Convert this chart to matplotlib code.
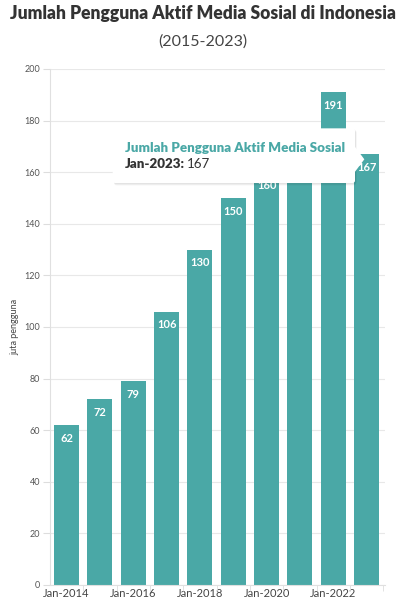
import matplotlib
matplotlib.use("Agg")
import matplotlib.pyplot as plt
from matplotlib.patches import FancyBboxPatch, Polygon
import numpy as np

years = ["Jan-2014", "Jan-2015", "Jan-2016", "Jan-2017", "Jan-2018",
         "Jan-2019", "Jan-2020", "Jan-2021", "Jan-2022", "Jan-2023"]
values = [62, 72, 79, 106, 130, 150, 160, 170, 191, 167]
yticks = [0, 20, 40, 60, 80, 100, 120, 140, 160, 180, 200]

TEAL = "#4aa8a6"
FONT = "Lato"

fig = plt.figure(figsize=(4.06, 6.03), dpi=100)
ax = fig.add_axes([50/406, 1-585/603, (385-50)/406, (585-69)/603])

x = np.arange(len(years))
bars = ax.bar(x, values, width=0.75, color=TEAL, zorder=2)

for xi, v in zip(x, values):
    ax.text(xi, v - 3, str(v), ha="center", va="top", color="white",
            fontsize=8, fontweight="bold", family=FONT, zorder=3)

ax.set_xlim(-0.5, 9.55)
ax.set_ylim(0, 200)
ax.set_yticks(yticks)
ax.set_yticklabels([str(t) for t in yticks], fontsize=6.5, color="#555555", family=FONT)
ax.tick_params(axis="y", length=5, color="#dddddd", pad=2)
ax.grid(axis="y", color="#e8e8e8", linewidth=0.8, zorder=0)
ax.set_axisbelow(True)

ax.set_xticks(x[::2])
ax.set_xticklabels(years[::2], fontsize=8, color="#444444", family=FONT)
ax.tick_params(axis="x", length=0, pad=2)
ax.set_xticks(x + 0.5, minor=True)
ax.tick_params(axis="x", which="minor", length=4, color="#dddddd")

for s in ["top", "right"]:
    ax.spines[s].set_visible(False)
for s in ["left", "bottom"]:
    ax.spines[s].set_color("#e0e0e0")
    ax.spines[s].set_linewidth(0.8)

ax.set_ylabel("juta pengguna", fontsize=6.5, color="#444444", family=FONT, labelpad=4)

title = fig.text(0.5, 1-14/603, "Jumlah Pengguna Aktif Media Sosial di Indonesia",
                 ha="center", va="center", fontsize=13, fontweight="heavy",
                 color="#333333", family=FONT)
fig.canvas.draw()
w = title.get_window_extent().width
title.set_fontsize(13 * 386 / w)
fig.text(0.5, 1-42/603, "(2015-2023)", ha="center", va="center",
         fontsize=11.5, color="#444444", family=FONT)

# tooltip
tx0, tx1, ty0, ty1 = 1.38, 8.65, 155.8, 177
for k, a in [(0.9, 0.05), (0.5, 0.06)]:
    sh = FancyBboxPatch((tx0 + 0.04, ty0 - k), tx1 - tx0, ty1 - ty0,
                        boxstyle="round,pad=0,rounding_size=0.08",
                        facecolor="#000000", alpha=a, edgecolor="none",
                        zorder=4, mutation_aspect=12)
    ax.add_patch(sh)
box = FancyBboxPatch((tx0, ty0), tx1 - tx0, ty1 - ty0,
                     boxstyle="round,pad=0,rounding_size=0.08",
                     facecolor="white", edgecolor="none", zorder=5,
                     mutation_aspect=12)
ax.add_patch(box)
ptr = Polygon([[tx1 - 0.01, 170], [tx1 + 0.28, 165], [tx1 - 0.01, 160]], closed=True,
              facecolor="white", edgecolor="none", zorder=5)
ax.add_patch(ptr)
ax.text(tx0 + 0.36, 169.5, "Jumlah Pengguna Aktif Media Sosial", ha="left",
        va="center", fontsize=9.6, fontweight="heavy", color=TEAL,
        family=FONT, zorder=6)
t2 = ax.text(tx0 + 0.36, 163.2, "Jan-2023:", ha="left", va="center",
             fontsize=9.6, fontweight="heavy", color="#333333", family=FONT, zorder=6)
fig.canvas.draw()
bb = t2.get_window_extent().transformed(ax.transData.inverted())
ax.text(bb.x1 + 0.08, 163.2, str(values[-1]), ha="left", va="center",
        fontsize=9.6, color="#333333", family=FONT, zorder=6)

fig.savefig("out.png", dpi=100, facecolor="white")
